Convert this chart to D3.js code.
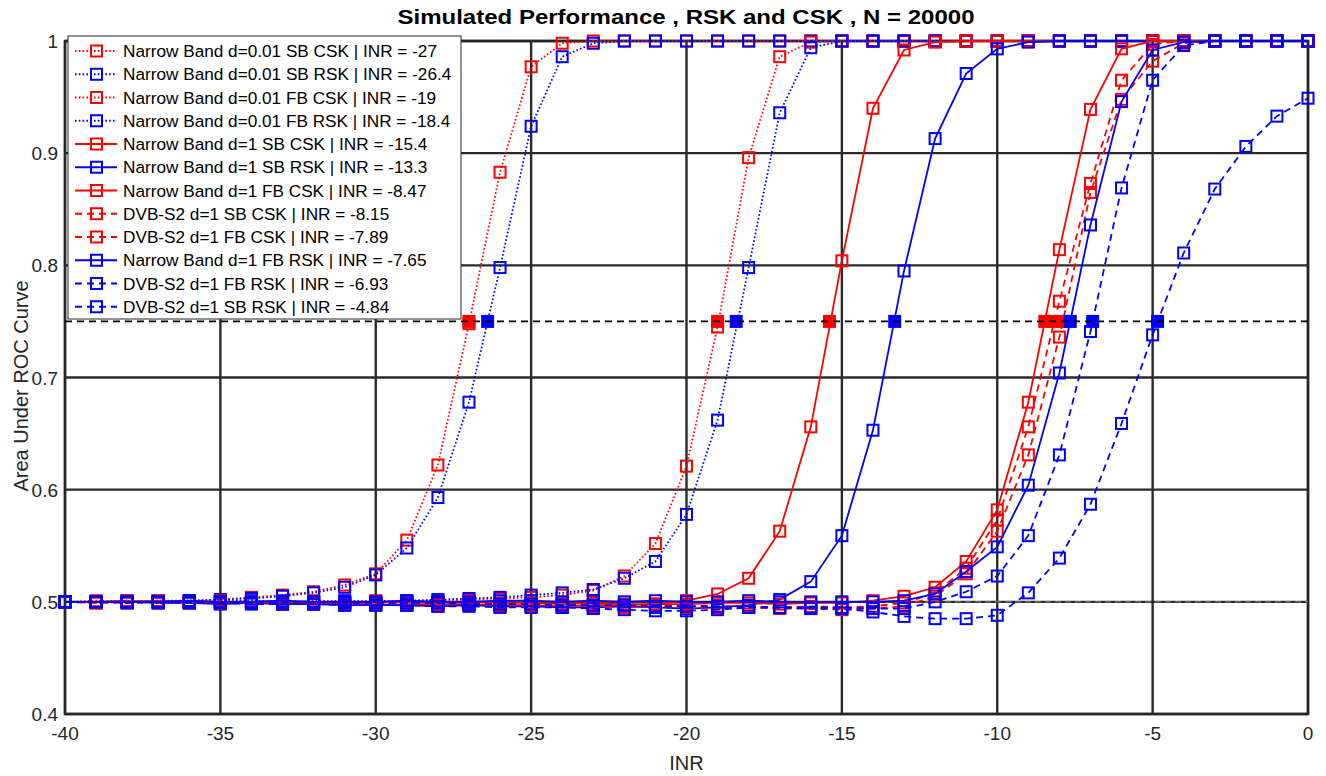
<!DOCTYPE html>
<html>
<head>
<meta charset="utf-8">
<script src="https://cdn.jsdelivr.net/npm/d3@7"></script>
<style>
    body { margin: 0; background: #fff; }
    svg { display: block; }
</style>
</head>
<body>
<svg id="chart"></svg>
<script>
// INR sweep, -40 .. 0 dB in 1 dB steps
const inr = d3.range(-40, 1, 1);

// area under ROC curve, one array per detector
const nbSbCsk001 = [0.500,0.501,0.500,0.501,0.501, 0.502,0.504,0.506,0.509,0.515, 0.525,0.555,0.622,0.748,0.883,
    0.977,0.998, 1,1,1,1,1,1,1,1,1,1,1,1,1,1,1,1,1,1,1,1,1,1,1,1];
const nbSbRsk001 = [0.500,0.500,0.501,0.500,0.501, 0.502,0.503,0.505,0.508,0.513, 0.524,0.548,0.593,0.678,0.798,
    0.924,0.986,0.998,1, 1,1,1,1,1,1,1,1,1,1,1,1,1,1,1,1,1,1,1,1,1,1];
const nbFbCsk001 = [0.500,0.499,0.500,0.501,0.500, 0.501,0.500,0.499,0.501,0.500, 0.501,0.500,0.501,0.502,0.503,
    0.504,0.506,0.510,0.523,0.552, 0.621,0.745,0.896,0.986,0.999, 1,1,1,1,1,1,1,1,1,1,1,1,1,1,1,1];
const nbFbRsk001 = [0.500,0.500,0.500,0.499,0.500, 0.500,0.501,0.500,0.500,0.501, 0.500,0.501,0.502,0.503,0.504,
    0.506,0.508,0.511,0.521,0.536, 0.578,0.662,0.798,0.936,0.994, 1,1,1,1,1,1,1,1,1,1,1,1,1,1,1,1];
const nbSbCsk1 = [0.500,0.500,0.501,0.500,0.500, 0.499,0.500,0.499,0.498,0.499, 0.498,0.497,0.498,0.498,0.497,
    0.497,0.496,0.497,0.497,0.498, 0.501,0.507,0.521,0.563,0.656, 0.804,0.940,0.992,0.999,1, 1,1,1,1,1,1,1,1,1,1,1];
const nbSbRsk1 = [0.500,0.500,0.500,0.499,0.499, 0.498,0.499,0.498,0.498,0.497, 0.497,0.497,0.496,0.497,0.496,
    0.496,0.495,0.495,0.496,0.495, 0.494,0.495,0.497,0.502,0.518, 0.559,0.653,0.795,0.913,0.971,
    0.993,0.999,1,1,1, 1,1,1,1,1,1];
const nbFbCsk1 = [0.500,0.500,0.500,0.501,0.500, 0.500,0.499,0.500,0.500,0.499, 0.500,0.499,0.499,0.500,0.499,
    0.499,0.498,0.499,0.498,0.498, 0.498,0.499,0.499,0.498,0.499, 0.499,0.501,0.505,0.513,0.536,
    0.582,0.678,0.814,0.939,0.993, 1,1,1,1,1,1];
const dvbSbCsk = [0.500,0.500,0.499,0.500,0.500, 0.499,0.499,0.500,0.499,0.498, 0.499,0.498,0.498,0.499,0.498,
    0.498,0.497,0.497,0.496,0.496, 0.497,0.496,0.496,0.495,0.496, 0.495,0.496,0.499,0.508,0.530,
    0.573,0.656,0.768,0.873,0.965, 0.997,1,1,1,1,1];
const dvbFbCsk = [0.500,0.499,0.500,0.500,0.499, 0.499,0.500,0.498,0.499,0.498, 0.498,0.499,0.497,0.498,0.497,
    0.496,0.497,0.496,0.495,0.496, 0.495,0.494,0.495,0.494,0.494, 0.493,0.494,0.496,0.505,0.525,
    0.563,0.631,0.736,0.865,0.948, 0.982,0.998,1,1,1,1];
const nbFbRsk1 = [0.500,0.500,0.500,0.500,0.501, 0.500,0.500,0.501,0.500,0.500, 0.500,0.501,0.500,0.500,0.501,
    0.501,0.500,0.501,0.500,0.501, 0.500,0.500,0.501,0.500,0.500, 0.500,0.500,0.501,0.507,0.527,
    0.549,0.604,0.704,0.836,0.946, 0.992,0.999,1,1,1,1];
const dvbFbRsk = [0.500,0.500,0.500,0.500,0.500, 0.500,0.499,0.500,0.500,0.499, 0.499,0.499,0.499,0.498,0.498,
    0.498,0.497,0.497,0.497,0.496, 0.496,0.496,0.495,0.495,0.495, 0.495,0.494,0.494,0.500,0.509,
    0.523,0.559,0.631,0.741,0.869, 0.965,0.996,1,1,1,1];
const dvbSbRsk = [0.500,0.500,0.499,0.500,0.499, 0.499,0.498,0.498,0.498,0.497, 0.497,0.497,0.496,0.496,0.495,
    0.495,0.495,0.494,0.493,0.492, 0.492,0.493,0.495,0.495,0.494, 0.494,0.491,0.487,0.485,0.485,
    0.488,0.508,0.539,0.587,0.659, 0.738,0.811,0.868,0.906,0.933,0.949];

// legend order, names, and the INR where each curve reaches AUC = 0.75
const seriesNames = [
    "Narrow Band d=0.01 SB CSK", "Narrow Band d=0.01 SB RSK", "Narrow Band d=0.01 FB CSK", "Narrow Band d=0.01 FB RSK",
    "Narrow Band d=1 SB CSK", "Narrow Band d=1 SB RSK", "Narrow Band d=1 FB CSK",
    "DVB-S2 d=1 SB CSK", "DVB-S2 d=1 FB CSK", "Narrow Band d=1 FB RSK", "DVB-S2 d=1 FB RSK", "DVB-S2 d=1 SB RSK"
];
const seriesValues = [nbSbCsk001, nbSbRsk001, nbFbCsk001, nbFbRsk001, nbSbCsk1, nbSbRsk1, nbFbCsk1,
    dvbSbCsk, dvbFbCsk, nbFbRsk1, dvbFbRsk, dvbSbRsk];
const thresholdInr = [-27, -26.4, -19, -18.4, -15.4, -13.3, -8.47, -8.15, -7.89, -7.65, -6.93, -4.84];
const targetAuc = 0.75;

const xTicks = [-40, -35, -30, -25, -20, -15, -10, -5, 0];
const yTicks = [0.4, 0.5, 0.6, 0.7, 0.8, 0.9, 1];

// styles
const seriesColor = ["red", "blue", "red", "blue", "red", "blue", "red", "red", "red", "blue", "blue", "blue"];
const seriesStyle = ["dot", "dot", "dot", "dot", "solid", "solid", "solid", "dash", "dash", "solid", "dash", "dash"];
const dashFor = {dot: "1.6,2.2", solid: null, dash: "7,5"};

const width = 1326;
const height = 776;
const plotLeft = 65, plotRight = 1308, plotTop = 41, plotBottom = 714;
const axisFont = "'Liberation Sans', Arial, sans-serif";

const svg = d3.select("#chart")
    .attr("width", width)
    .attr("height", height);

const x = d3.scaleLinear().domain([-40, 0]).range([plotLeft, plotRight]);
const y = d3.scaleLinear().domain([0.4, 1]).range([plotBottom, plotTop]);

// grid
svg.append("g")
    .selectAll("line")
    .data(xTicks)
    .enter().append("line")
    .attr("x1", d => x(d)).attr("x2", d => x(d))
    .attr("y1", plotTop).attr("y2", plotBottom)
    .attr("stroke", "#2a2a2a")
    .attr("stroke-width", 2.4);

svg.append("g")
    .selectAll("line")
    .data(yTicks)
    .enter().append("line")
    .attr("x1", plotLeft).attr("x2", plotRight)
    .attr("y1", d => y(d)).attr("y2", d => y(d))
    .attr("stroke", "#2a2a2a")
    .attr("stroke-width", 2.4);

// axes box
svg.append("rect")
    .attr("x", plotLeft).attr("y", plotTop)
    .attr("width", plotRight - plotLeft).attr("height", plotBottom - plotTop)
    .attr("fill", "none")
    .attr("stroke", "#262626")
    .attr("stroke-width", 2.5);

// reference line at AUC 0.5
svg.append("line")
    .attr("x1", x(-40)).attr("x2", x(0))
    .attr("y1", y(0.5)).attr("y2", y(0.5))
    .attr("stroke", "#aaa")
    .attr("stroke-width", 0.8)
    .attr("stroke-dasharray", "6,4");

const lineGen = d3.line()
    .x((d, i) => x(inr[i]))
    .y(d => y(d));

const plot = svg.append("g");

seriesValues.forEach((vals, k) =>
{
    const g = plot.append("g");
    g.append("path")
        .datum(vals)
        .attr("d", lineGen)
        .attr("fill", "none")
        .attr("stroke", seriesColor[k])
        .attr("stroke-width", 1.8)
        .attr("stroke-dasharray", dashFor[seriesStyle[k]]);

    g.selectAll("rect")
        .data(vals)
        .enter().append("rect")
        .attr("x", (d, i) => x(inr[i]) - 5.5)
        .attr("y", d => y(d) - 5.5)
        .attr("width", 11)
        .attr("height", 11)
        .attr("fill", "none")
        .attr("stroke", seriesColor[k])
        .attr("stroke-width", 2);
});

// filled markers where each curve crosses 0.75
plot.selectAll(".cross")
    .data(thresholdInr)
    .enter().append("rect")
    .attr("class", "cross")
    .attr("x", d => x(d) - 6.5)
    .attr("y", y(targetAuc) - 6.5)
    .attr("width", 13)
    .attr("height", 13)
    .attr("fill", (d, i) => seriesColor[i]);

svg.append("line")
    .attr("x1", x(-40)).attr("x2", x(0))
    .attr("y1", y(targetAuc)).attr("y2", y(targetAuc))
    .attr("stroke", "black")
    .attr("stroke-width", 1.8)
    .attr("stroke-dasharray", "7,5");

// tick labels
svg.append("g")
    .selectAll("text")
    .data(xTicks)
    .enter().append("text")
    .attr("x", d => x(d))
    .attr("y", 740)
    .attr("text-anchor", "middle")
    .attr("font-family", axisFont)
    .attr("font-size", "19px")
    .attr("fill", "#262626")
    .text(d => d);

svg.append("g")
    .selectAll("text")
    .data(yTicks)
    .enter().append("text")
    .attr("x", plotLeft - 7)
    .attr("y", d => y(d) + 7)
    .attr("text-anchor", "end")
    .attr("font-family", axisFont)
    .attr("font-size", "19px")
    .attr("fill", "#262626")
    .text(d => d);

svg.append("text")
    .attr("x", (plotLeft + plotRight) / 2)
    .attr("y", 770)
    .attr("text-anchor", "middle")
    .attr("font-family", axisFont)
    .attr("font-size", "20px")
    .attr("fill", "#262626")
    .text("INR");

svg.append("text")
    .attr("transform", "translate(28, 386) rotate(-90)")
    .attr("text-anchor", "middle")
    .attr("font-family", axisFont)
    .attr("font-size", "20px")
    .attr("fill", "#262626")
    .text("Area Under ROC Curve");

svg.append("text")
    .attr("x", 686)
    .attr("y", 24)
    .attr("text-anchor", "middle")
    .attr("font-family", axisFont)
    .attr("font-size", "21px")
    .attr("font-weight", "bold")
    .attr("textLength", 577)
    .attr("lengthAdjust", "spacingAndGlyphs")
    .attr("fill", "black")
    .text("Simulated Performance , RSK and CSK , N = 20000");

// legend
const legend = svg.append("g").attr("transform", "translate(68, 36)");
legend.append("rect")
    .attr("width", 393).attr("height", 283)
    .attr("fill", "white")
    .attr("stroke", "#262626")
    .attr("stroke-width", 1);

const rows = legend.selectAll(".row")
    .data(seriesNames)
    .enter().append("g")
    .attr("class", "row")
    .attr("transform", (d, i) => `translate(0, ${15 + i * 23.25})`);

rows.append("line")
    .attr("x1", 7).attr("x2", 49)
    .attr("y1", 0).attr("y2", 0)
    .attr("stroke", (d, i) => seriesColor[i])
    .attr("stroke-width", 1.8)
    .attr("stroke-dasharray", (d, i) => dashFor[seriesStyle[i]]);

rows.append("rect")
    .attr("x", 23).attr("y", -5.5)
    .attr("width", 11).attr("height", 11)
    .attr("fill", "none")
    .attr("stroke", (d, i) => seriesColor[i])
    .attr("stroke-width", 2);

rows.append("text")
    .attr("x", 55)
    .attr("y", 6)
    .attr("font-family", axisFont)
    .attr("font-size", "17.2px")
    .attr("fill", "black")
    .text((d, i) => `${d} | INR = ${thresholdInr[i]}`);
</script>
</body>
</html>
